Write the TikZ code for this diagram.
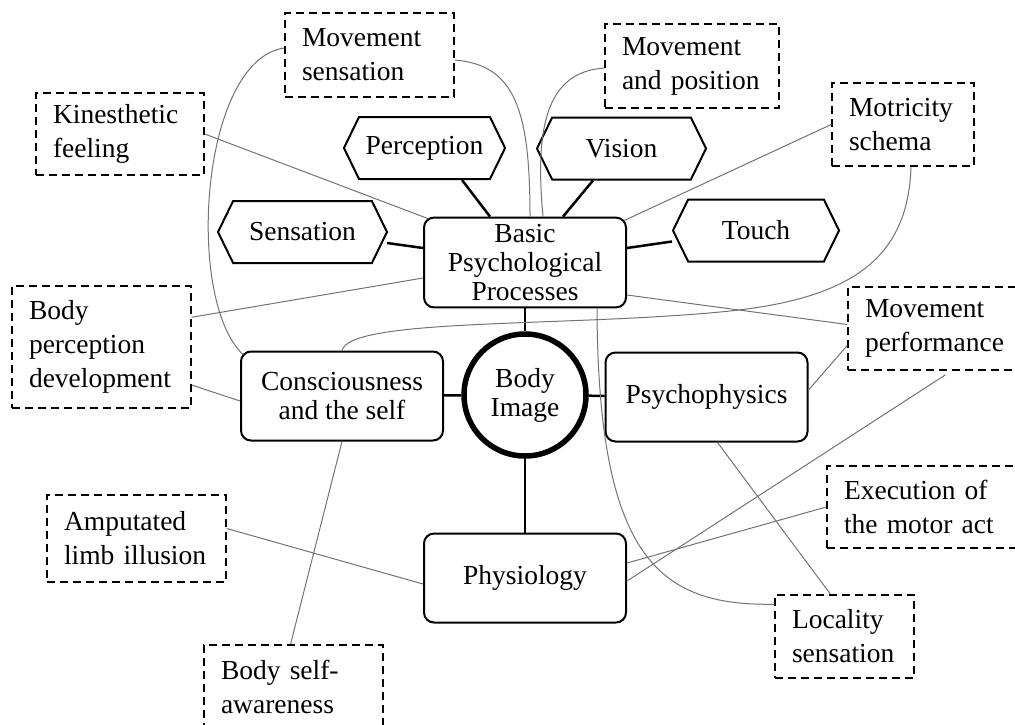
\documentclass[tikz,border=0pt]{standalone}
\usepackage{fontspec}
\setmainfont{Liberation Serif}
\usepackage{tikz}
\usetikzlibrary{shapes.symbols, calc}
\tikzstyle{mainbox} = [rectangle, rounded corners=5pt, minimum width=101pt, minimum height=44.5pt, align=center, draw=black, line width=1pt, font=\fontsize{13.75}{14.5}\selectfont]
\tikzstyle{imagecircle} = [circle, minimum size=61pt, align=center, draw=black, line width=2.75pt, font=\fontsize{13.75}{14.5}\selectfont]
\tikzstyle{hexa} = [signal, signal to=east and west, signal pointer angle=128, minimum height=31pt, draw=black, line width=1pt, font=\fontsize{13.75}{17}\selectfont]
\tikzstyle{note} = [rectangle, draw=black, line width=0.75pt, dash pattern=on 4pt off 2.5pt, align=left, inner xsep=8.5pt, font=\fontsize{13.75}{17}\selectfont]
\tikzstyle{spoke} = [line width=1.25pt]
\tikzstyle{link} = [draw=black!55, line width=0.5pt]

\begin{document}
\begin{tikzpicture}[x=0.5pt, y=-0.5pt]
\useasboundingbox (0,0) rectangle (1015,724);
\clip (0,0) rectangle (1015,724);

% centre and the four areas
\node(bodyimg) [imagecircle] at (525,395) {Body\\Image};
\node(basic) [mainbox] at (525,262.5) {Basic\\Psychological\\Processes};
\node(conscious) [mainbox] at (342,396) {Consciousness\\and the self};
\node(psycho) [mainbox] at (706.5,397) {Psychophysics};
\node(physio) [mainbox] at (525,578) {Physiology};

% basic processes
\node(perc) [hexa, minimum width=72.5pt] at (424.5,148) {Perception};
\node(vision) [hexa, minimum width=84.5pt] at (621.5,148.5) {Vision};
\node(sens) [hexa, minimum width=84.5pt] at (302.5,232) {Sensation};
\node(touch) [hexa, minimum width=83pt] at (756,230.5) {Touch};

% notions
\node(msens) [note, text width=67.5pt, minimum height=42pt] at (369.5,55) {Movement\\sensation};
\node(kfeel) [note, text width=67pt, minimum height=41pt] at (120,134) {Kinesthetic\\feeling};
\node(mpos) [note, text width=70pt, minimum height=42pt] at (692,66) {Movement\\and position};
\node(mschema) [note, text width=54pt, minimum height=41.5pt] at (903,124.5) {Motricity\\schema};
\node(bpdev) [note, text width=72.5pt, minimum height=61pt] at (101.5,347) {Body\\perception\\development};
\node(amput) [note, text width=72.5pt, minimum height=43.5pt] at (136.5,538.5) {Amputated\\limb illusion};
\node(bself) [note, text width=72.5pt, minimum height=42pt] at (293.5,687) {Body self-\\awareness};
\node(mperf) [note, text width=72.5pt, minimum height=41.5pt] at (937.5,328.5) {Movement\\performance};
\node(exec) [note, text width=80.5pt, minimum height=41pt] at (924.5,507) {Execution of\\the motor act};
\node(local) [note, text width=52.5pt, minimum height=41.5pt] at (844.5,636.5) {Locality\\sensation};

% thick connections
\draw[spoke] (basic) -- (bodyimg);
\draw[spoke] (conscious) -- (bodyimg);
\draw[spoke] (bodyimg) -- (psycho);
\draw[spoke] (bodyimg) -- (physio);
\draw[spoke] ($(perc.south)+(37.5,0)$) -- ($(basic.north)+(-35,0)$);
\draw[spoke] ($(vision.south)+(-28.5,0)$) -- ($(basic.north)+(38,0)$);
\draw[spoke] ($(sens.east)+(-1,11)$) -- ($(basic.west)+(0,-14.5)$);
\draw[spoke] ($(touch.west)+(0,11)$) -- ($(basic.east)+(0,-14.5)$);

% thin connections
\draw[link] ($(msens.west)+(0,-7)$) .. controls (200,60) and (185,300) .. ($(conscious.north west)+(3,4)$);
\draw[link] ($(msens.east)+(0,5)$) .. controls (515,65) and (530,110) .. ($(basic.north)+(5,0)$);
\draw[link] ($(mpos.west)+(0,2)$) .. controls (545,72) and (535,130) .. ($(basic.north)+(18,0)$);
\draw[link] (kfeel.east) -- ($(basic.north west)+(5,2)$);
\draw[link] (mschema.west) -- ($(basic.north east)+(-3,4)$);
\draw[link] ($(mschema.south)+(8,0)$) .. controls (908,260) and (850,300) .. (720,312) .. controls (560,327) and (350,318) .. (conscious.north);
\draw[link] ($(bpdev.north east)+(0,32)$) -- ($(basic.west)+(0,15.5)$);
\draw[link] ($(bpdev.east)+(0,38)$) -- ($(conscious.west)+(0,5)$);
\draw[link] ($(basic.east)+(0,32.5)$) -- ($(mperf.west)+(0,-4)$);
\draw[link] ($(psycho.east)+(0,-7)$) -- ($(mperf.west)+(0,17)$);
\draw[link] ($(basic.south)+(72,0)$) .. controls (598,560) and (660,606) .. ($(local.north west)+(0,10)$);
\draw[link] ($(psycho.south)+(11,0)$) -- ($(local.north)+(-14,0)$);
\draw[link] ($(physio.east)+(0,-15)$) -- (exec.west);
\draw[link] ($(physio.east)+(0,3)$) -- ($(mperf.south)+(8,4)$);
\draw[link] ($(amput.east)+(0,-10)$) -- ($(physio.west)+(0,6)$);
\draw[link] (conscious.south) -- ($(bself.north)+(-3,0)$);
\end{tikzpicture}
\end{document}
